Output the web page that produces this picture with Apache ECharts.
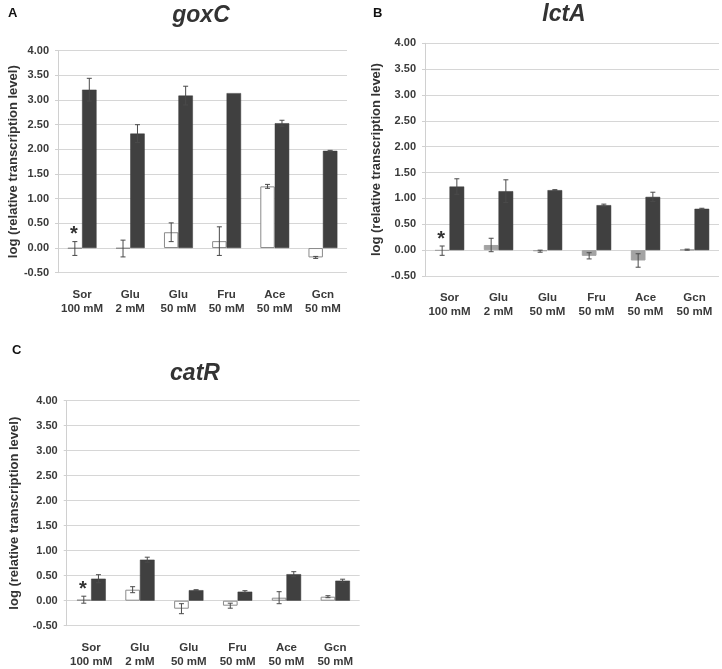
<!DOCTYPE html>
<html>
<head>
<meta charset="utf-8">
<script src="https://cdn.jsdelivr.net/npm/echarts@6/dist/echarts.min.js"></script>
<style>html,body{margin:0;padding:0;background:#fff}#c{width:722px;height:669px}</style>
</head>
<body>
<div id="c"></div>
<script>
// ---- data ----
const categories = ['Sor\n100 mM', 'Glu\n2 mM', 'Glu\n50 mM', 'Fru\n50 mM', 'Ace\n50 mM', 'Gcn\n50 mM'];
const yTicks = { min: -0.5, max: 4.0, step: 0.5 };

const goxC_ctrl = [-0.01, -0.01, 0.32, 0.14, 1.25, -0.19];
const goxC_ctrlErr = [0.14, 0.17, 0.19, 0.29, 0.04, 0.02];
const goxC_treat = [3.21, 2.32, 3.09, 3.14, 2.53, 1.97];
const goxC_treatErr = [0.23, 0.18, 0.19, 0.0, 0.06, 0.01];

const lctA_ctrl = [-0.01, 0.10, -0.02, -0.11, -0.20, 0.01];
const lctA_ctrlErr = [0.09, 0.13, 0.02, 0.06, 0.13, 0.01];
const lctA_treat = [1.23, 1.14, 1.16, 0.87, 1.03, 0.80];
const lctA_treatErr = [0.15, 0.22, 0.01, 0.02, 0.09, 0.01];

const catR_ctrl = [0.02, 0.22, -0.16, -0.10, 0.06, 0.08];
const catR_ctrlErr = [0.07, 0.06, 0.10, 0.05, 0.12, 0.02];
const catR_treat = [0.44, 0.82, 0.21, 0.18, 0.53, 0.40];
const catR_treatErr = [0.08, 0.05, 0.01, 0.02, 0.05, 0.03];

const markedCategory = 0; // asterisk over control bar of first category

// ---- layout ----
const panels = [
  { letter: 'A', gene: 'goxC', ctrl: goxC_ctrl, ctrlErr: goxC_ctrlErr, treat: goxC_treat, treatErr: goxC_treatErr,
    grid: { left: 58, top: 50.7, width: 289, height: 222 }, nameGap: 37, titleX: 196, titleY: -1, letterX: 3, letterY: 2,
    ctrlColor: '#ffffff', ctrlBorder: '#8a8a8a' },
  { letter: 'B', gene: 'lctA', ctrl: lctA_ctrl, ctrlErr: lctA_ctrlErr, treat: lctA_treat, treatErr: lctA_treatErr,
    grid: { left: 425, top: 43.3, width: 294, height: 232.7 }, nameGap: 42, titleX: 559, titleY: -2, letterX: 368, letterY: 2,
    ctrlColor: '#a3a3a3', ctrlBorder: '#a3a3a3' },
  { letter: 'C', gene: 'catR', ctrl: catR_ctrl, ctrlErr: catR_ctrlErr, treat: catR_treat, treatErr: catR_treatErr,
    grid: { left: 66.7, top: 400.7, width: 293, height: 225 }, nameGap: 46, titleX: 190, titleY: 357, letterX: 7, letterY: 339,
    ctrlColor: '#ffffff', ctrlBorder: '#8a8a8a' }
];

const FONT = 'Liberation Sans, Arial, sans-serif';
const grids = [], xAxes = [], yAxes = [], series = [], titles = [];

function errRender(offsetFrac, withStar) {
  return function (params, api) {
    const idx = api.value(0), v = api.value(1), e = api.value(2);
    const band = api.size([1, 0])[0];
    const c = api.coord([idx, v]);
    const x = c[0] + offsetFrac * band;
    const yt = api.coord([idx, v + e])[1];
    const yb = api.coord([idx, v - e])[1];
    const children = [];
    const st = { stroke: '#4a4a4a', lineWidth: 1 };
    if (e > 0) {
      children.push({ type: 'line', shape: { x1: x, y1: yt, x2: x, y2: yb }, style: st });
      children.push({ type: 'line', shape: { x1: x - 2.5, y1: yt, x2: x + 2.5, y2: yt }, style: st });
      children.push({ type: 'line', shape: { x1: x - 2.5, y1: yb, x2: x + 2.5, y2: yb }, style: st });
    }
    if (withStar && idx === markedCategory) {
      children.push({ type: 'text', style: { text: '*', x: x - 1, y: yt - 7, textAlign: 'center', textVerticalAlign: 'middle',
        font: 'bold 20px ' + FONT, fill: '#333' } });
    }
    return { type: 'group', children: children };
  };
}

panels.forEach((p, i) => {
  grids.push(Object.assign({ containLabel: false }, p.grid));
  xAxes.push({
    type: 'category', gridIndex: i, data: categories,
    axisLine: { show: false, onZero: false }, axisTick: { show: false },
    axisLabel: { margin: 15, fontFamily: FONT, fontWeight: 'bold', fontSize: 11.5, color: '#3a3a3a', lineHeight: 14, interval: 0 }
  });
  yAxes.push({
    type: 'value', gridIndex: i, min: yTicks.min, max: yTicks.max, interval: yTicks.step,
    name: 'log (relative transcription level)', nameLocation: 'middle', nameGap: p.nameGap,
    nameTextStyle: { fontFamily: FONT, fontWeight: 'bold', fontSize: 13, color: '#333' },
    axisLine: { show: true, lineStyle: { color: '#d0d0d0' } },
    axisTick: { show: true, length: 3, lineStyle: { color: '#d0d0d0' } },
    splitLine: { show: true, lineStyle: { color: '#d6d6d6', width: 1 } },
    axisLabel: { margin: 9, fontFamily: FONT, fontWeight: 'bold', fontSize: 11, color: '#3a3a3a',
      formatter: v => v.toFixed(2) }
  });
  titles.push({ text: p.gene, left: p.titleX, top: p.titleY, textAlign: 'center',
    textStyle: { fontFamily: FONT, fontWeight: 'bold', fontStyle: 'italic', fontSize: 23, color: '#333' } });
  titles.push({ text: p.letter, left: p.letterX, top: p.letterY,
    textStyle: { fontFamily: FONT, fontWeight: 'bold', fontSize: 13, color: '#111' } });

  series.push({ type: 'bar', xAxisIndex: i, yAxisIndex: i, data: p.ctrl, barWidth: '30%', barGap: '0%',
    itemStyle: { color: p.ctrlColor, borderColor: p.ctrlBorder, borderWidth: 1 }, silent: true });
  series.push({ type: 'bar', xAxisIndex: i, yAxisIndex: i, data: p.treat, barWidth: '30%', barGap: '0%',
    itemStyle: { color: '#404040', borderColor: '#3a3a3a', borderWidth: 0.5 }, silent: true });
  series.push({ type: 'custom', xAxisIndex: i, yAxisIndex: i, renderItem: errRender(-0.15, true),
    data: p.ctrl.map((v, k) => [k, v, p.ctrlErr[k]]), z: 5, silent: true });
  series.push({ type: 'custom', xAxisIndex: i, yAxisIndex: i, renderItem: errRender(0.15, false),
    data: p.treat.map((v, k) => [k, v, p.treatErr[k]]), z: 5, silent: true });
});

const chart = echarts.init(document.getElementById('c'), null, { renderer: 'canvas' });
chart.setOption({
  animation: false, backgroundColor: '#ffffff',
  title: titles, grid: grids, xAxis: xAxes, yAxis: yAxes, series: series
});
</script>
</body>
</html>
